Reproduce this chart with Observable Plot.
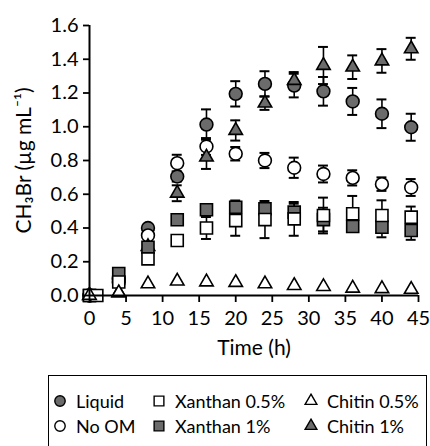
<!DOCTYPE html>
<html><head><meta charset="utf-8">
<script src="https://cdn.jsdelivr.net/npm/d3@7"></script>
<script src="https://cdn.jsdelivr.net/npm/@observablehq/plot@0.6"></script>
<style>
body{margin:0;background:#fff;font-family:Lato,"Noto Sans",sans-serif;}
#chart{position:absolute;left:0;top:0;}
#legend{position:absolute;left:48px;top:375px;width:379px;height:90px;border:1.6px solid #000;box-sizing:border-box;}
.item{position:absolute;font-size:18px;line-height:20px;white-space:nowrap;color:#000;}
.item svg{position:absolute;}
</style></head><body>
<div id="chart"></div>
<div id="legend"></div>
<script>
// sampling times (h); null = no measurement at that time
const times = [0, 1, 4, 8, 12, 16, 20, 24, 28, 32, 36, 40, 44];

const liquid      = [0, null, 0.10, 0.40, 0.705, 1.013, 1.195, 1.254, 1.244, 1.21, 1.15, 1.077, 0.997];
const liquidErr   = [0, null, 0.01, 0.01, 0.03, 0.09, 0.075, 0.075, 0.07, 0.085, 0.08, 0.085, 0.08];
const noOM        = [0, null, 0.08, 0.356, 0.784, 0.883, 0.84, 0.80, 0.757, 0.72, 0.697, 0.66, 0.64];
const noOMErr     = [0, null, 0.01, 0.01, 0.05, 0.05, 0.04, 0.045, 0.06, 0.05, 0.045, 0.04, 0.05];
const xanthan05   = [0, 0, 0.08, 0.217, 0.326, 0.40, 0.444, 0.45, 0.454, 0.474, 0.484, 0.474, 0.464];
const xanthan05Err= [0, 0, 0.01, 0.01, 0.03, 0.065, 0.09, 0.11, 0.10, 0.106, 0.106, 0.09, 0.063];
const xanthan1    = [0, null, 0.13, 0.286, 0.449, 0.508, 0.523, 0.514, 0.494, 0.45, 0.409, 0.405, 0.385];
const xanthan1Err = [0, null, 0.01, 0.01, 0.02, 0.03, 0.04, 0.03, 0.05, 0.07, 0.03, 0.06, 0.055];
const chitin05    = [0, null, 0.016, 0.069, 0.085, 0.08, 0.077, 0.069, 0.059, 0.053, 0.043, 0.04, 0.036];
const chitin05Err = [0, null, 0, 0, 0, 0, 0, 0, 0, 0, 0, 0, 0];
const chitin1     = [0, null, 0.016, 0.29, 0.606, 0.82, 0.978, 1.14, 1.274, 1.363, 1.353, 1.39, 1.462];
const chitin1Err  = [0, null, 0, 0.01, 0.047, 0.07, 0.06, 0.04, 0.05, 0.11, 0.07, 0.07, 0.065];

const xTicks = [0, 5, 10, 15, 20, 25, 30, 35, 40, 45];
const yTicks = [0, 0.2, 0.4, 0.6, 0.8, 1.0, 1.2, 1.4, 1.6];
const xLabel = "Time (h)";
const yLabel = "CH₃Br (µg mL⁻¹)";

const GRAY = "#6b6b6b";
// draw order: first is bottom
const series = [
  {name: "Liquid", v: liquid, e: liquidErr, symbol: "circle", fill: GRAY, r: 6.4},
  {name: "No OM", v: noOM, e: noOMErr, symbol: "circle", fill: "#fff", r: 6.4},
  {name: "Chitin 1%", v: chitin1, e: chitin1Err, symbol: "triangle", fill: GRAY, r: 5},
  {name: "Xanthan 1%", v: xanthan1, e: xanthan1Err, symbol: "square", fill: GRAY, r: 6.8},
  {name: "Xanthan 0.5%", v: xanthan05, e: xanthan05Err, symbol: "square", fill: "#fff", r: 6.8},
  {name: "Chitin 0.5%", v: chitin05, e: chitin05Err, symbol: "triangle", fill: "#fff", r: 5}
];

function rows(s) {
  return times.map((t, i) => ({t, v: s.v[i], e: s.e[i]})).filter(d => d.v != null);
}

const capHalf = 0.68; // half width of error-bar caps in hours
const marks = [];
for (const s of series) {
  const data = rows(s);
  const withErr = data.filter(d => d.e > 0);
  marks.push(
    Plot.ruleX(withErr, {x: "t", y1: d => d.v - d.e, y2: d => d.v + d.e, stroke: "#000", strokeWidth: 1.6}),
    Plot.ruleY(withErr, {y: d => d.v + d.e, x1: d => d.t - capHalf, x2: d => d.t + capHalf, stroke: "#000", strokeWidth: 2}),
    Plot.ruleY(withErr, {y: d => d.v - d.e, x1: d => d.t - capHalf, x2: d => d.t + capHalf, stroke: "#000", strokeWidth: 2})
  );
}
for (const s of series) {
  marks.push(Plot.dot(rows(s), {x: "t", y: "v", symbol: () => s.symbol, r: s.r, fill: s.fill, stroke: "#000", strokeWidth: 1.6}));
}

const chart = Plot.plot({
  width: 430,
  height: 372,
  marginLeft: 89,
  marginRight: 12,
  marginTop: 25,
  marginBottom: 77,
  style: {fontSize: "19px", fontFamily: "Lato, 'Noto Sans', sans-serif", color: "#000", background: "#fff"},
  x: {domain: [0, 45]},
  y: {domain: [0, 1.6]},
  symbol: {type: "identity"},
  marks: [
    ...marks,
    Plot.ruleX([0], {stroke: "#000", strokeWidth: 2}),
    Plot.ruleY([0], {stroke: "#000", strokeWidth: 2}),
    Plot.axisX({ticks: xTicks, tickSize: 7, tickPadding: 8, strokeWidth: 1.8, fontSize: 20, label: null}),
    Plot.axisY({ticks: yTicks, tickSize: 6, tickPadding: 5, strokeWidth: 1.8, fontSize: 20, tickFormat: d3.format(".1f"), label: null}),
    Plot.text([xLabel], {text: d => d, frameAnchor: "bottom", lineAnchor: "middle", textAnchor: "middle", dy: 53, fontSize: 21, fill: "#000"}),
    Plot.text([yLabel], {text: d => d, frameAnchor: "left", lineAnchor: "middle", textAnchor: "middle", dx: -65, rotate: -90, fontSize: 21, fill: "#000"})
  ]
});
document.getElementById("chart").appendChild(chart);

// legend
const legendItems = [
  {name: "Liquid", symbol: "circle", fill: GRAY, left: 11, top: 27},
  {name: "No OM", symbol: "circle", fill: "#fff", left: 11, top: 52},
  {name: "Xanthan 0.5%", symbol: "square", fill: "#fff", left: 110, top: 27},
  {name: "Xanthan 1%", symbol: "square", fill: GRAY, left: 110, top: 52},
  {name: "Chitin 0.5%", symbol: "triangle", fill: "#fff", left: 262, top: 27},
  {name: "Chitin 1%", symbol: "triangle", fill: GRAY, left: 262, top: 52}
];
const legend = document.getElementById("legend");
const symMap = {circle: d3.symbolCircle, square: d3.symbolSquare, triangle: d3.symbolTriangle};
for (const it of legendItems) {
  const div = document.createElement("div");
  div.className = "item";
  div.style.left = (it.left + 16) + "px";
  div.style.top = (it.top - 10 - 1.6) + "px";
  div.textContent = it.name;
  const sz = it.symbol === "triangle" ? 60 : it.symbol === "square" ? 95 : 85;
  const svg = d3.create("svg").attr("width", 16).attr("height", 16)
    .style("left", "-24px").style("top", "2px");
  svg.append("path").attr("d", d3.symbol(symMap[it.symbol], sz)()).attr("transform", "translate(8,8)")
    .attr("fill", it.fill).attr("stroke", "#000").attr("stroke-width", 1.4);
  div.appendChild(svg.node());
  legend.appendChild(div);
}
</script>
</body></html>
